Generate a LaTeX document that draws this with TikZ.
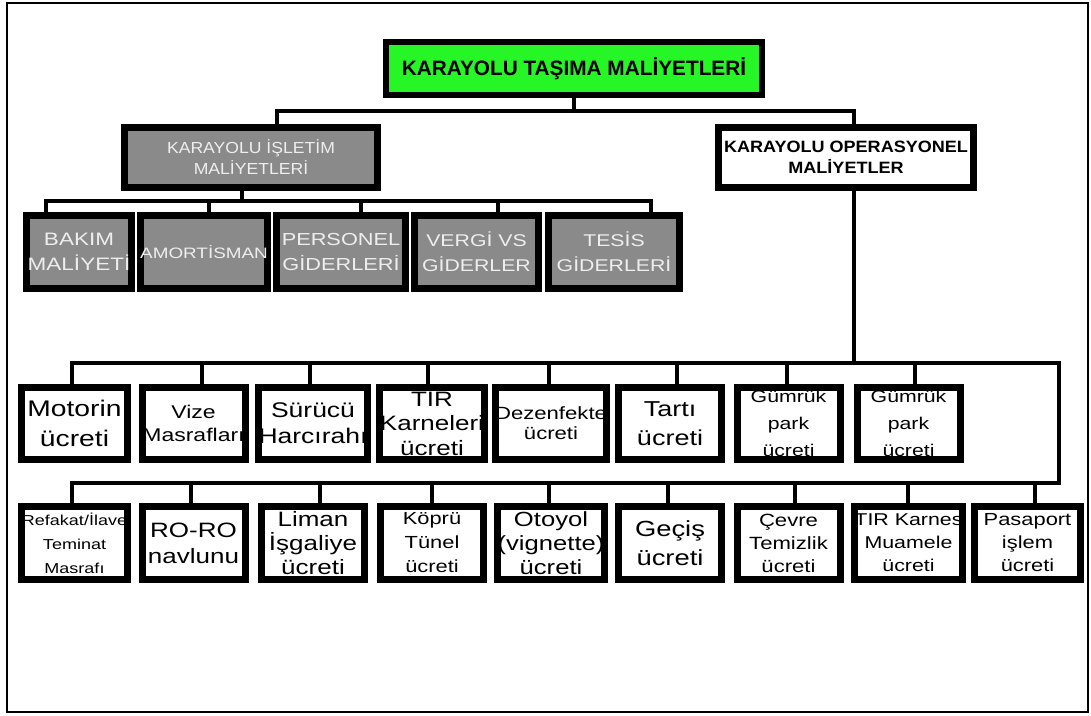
\documentclass[tikz,border=0pt]{standalone}
\usepackage{fontspec}
\setmainfont{Liberation Sans}
\newfontfamily\widesans[FakeStretch=1.25]{Liberation Sans}
\newfontfamily\titlesans[FakeStretch=1.1]{Liberation Sans}
\newcommand\fsz[2]{\fontsize{#1}{#2}\selectfont}
\definecolor{chartgreen}{RGB}{38,245,38}
\definecolor{chartgray}{RGB}{138,138,138}
\definecolor{graytext}{RGB}{238,238,238}

\begin{document}
\begin{tikzpicture}[x=1pt,y=-1pt,
  conn/.style={line width=3.2pt, line cap=rect, line join=miter},
  box/.style={draw, line width=7pt, inner sep=0pt, align=center},
  gbox/.style={box, fill=chartgray, text=graytext},
  wbox/.style={box, fill=white, text=black},
  gchild/.style={gbox, minimum height=73},
  cell/.style={wbox, minimum width=103, minimum height=72}
]
\useasboundingbox (0,0) rectangle (1091,715);
\fill[white] (0,0) rectangle (1091,715);
\draw[line width=2pt] (7,3) rectangle (1088,712);

% bus levels
\coordinate (bus1) at (0,111);
\coordinate (bus2) at (0,201);
\coordinate (bus3) at (0,363);
\coordinate (bus4) at (0,483);

% top level
\node[box, fill=chartgreen, line width=6pt, minimum width=376, minimum height=53,
      font=\bfseries\fsz{20.8}{24}] (top) at (574,68.5) {KARAYOLU TAŞIMA MALİYETLERİ};

% second level
\node[gbox, minimum width=253, minimum height=60, font=\titlesans\fsz{16}{21}]
  (gh) at (251,157.5) {KARAYOLU İŞLETİM\\MALİYETLERİ};
\node[wbox, minimum width=255, minimum height=60, font=\titlesans\bfseries\fsz{16.4}{21}]
  (wh) at (846,157.5) {KARAYOLU OPERASYONEL\\MALİYETLER};

% operating cost items
\node[gchild, minimum width=105, font=\widesans\fsz{18}{25}] (g1) at (79,252) {BAKIM\\MALİYETİ};
\node[gchild, minimum width=125, font=\widesans\fsz{15.1}{18}] (g2) at (204,252) {AMORTİSMAN};
\node[gchild, minimum width=129, font=\widesans\fsz{17.4}{25}] (g3) at (341,252) {PERSONEL\\GİDERLERİ};
\node[gchild, minimum width=124, font=\widesans\fsz{17}{25}] (g4) at (476.5,252) {VERGİ VS\\GİDERLER};
\node[gchild, minimum width=131, font=\widesans\fsz{17}{25}] (g5) at (614,252) {TESİS\\GİDERLERİ};

% operational cost items, first row
\node[cell, minimum width=106, font=\widesans\fsz{22.6}{30}] (a1) at (74.5,423.5) {Motorin\\ücreti};
\node[cell, font=\widesans\fsz{18.4}{23}] (a2) at (193.5,423.5) {Vize\\Masrafları};
\node[cell, font=\widesans\fsz{21.2}{26}] (a3) at (313,423.5) {Sürücü\\Harcırahı};
\node[cell, font=\widesans\fsz{20.8}{24.5}] (a4) at (432,423.5) {TIR\\Karneleri\\ücreti};
\node[cell, font=\widesans\fsz{17.7}{20}] (a5) at (551,423.5) {Dezenfekte\\ücreti};
\node[cell, font=\widesans\fsz{21.6}{29}] (a6) at (670,423.5) {Tartı\\ücreti};
\node[cell, font=\widesans\fsz{17}{27}] (a7) at (788.5,423.5) {Gümrük\\park\\ücreti};
\node[cell, font=\widesans\fsz{17}{27}] (a8) at (908.5,423.5) {Gümrük\\park\\ücreti};

% operational cost items, second row
\node[cell, minimum width=106, minimum height=73, font=\widesans\fsz{14.4}{24}] (b1) at (74.5,543) {Refakat/İlave\\Teminat\\Masrafı};
\node[cell, minimum height=73, font=\widesans\fsz{20.8}{26}] (b2) at (193.5,543) {RO-RO\\navlunu};
\node[cell, minimum height=73, font=\widesans\fsz{20.8}{24}] (b3) at (313,543) {Liman\\İşgaliye\\ücreti};
\node[cell, minimum height=73, font=\widesans\fsz{17.5}{24}] (b4) at (432,543) {Köprü\\Tünel\\ücreti};
\node[cell, minimum height=73, font=\widesans\fsz{20.5}{24}] (b5) at (551,543) {Otoyol\\(vignette)\\ücreti};
\node[cell, minimum height=73, font=\widesans\fsz{21.9}{29}] (b6) at (670,543) {Geçiş\\ücreti};
\node[cell, minimum height=73, font=\widesans\fsz{17.7}{23}] (b7) at (788.5,543) {Çevre\\Temizlik\\ücreti};
\node[cell, minimum height=73, font=\widesans\fsz{17.1}{23}] (b8) at (908.5,543) {TIR Karnes\\Muamele\\ücreti};
\node[cell, minimum width=106, minimum height=73, font=\widesans\fsz{17.5}{23}] (b9) at (1027.5,543) {Pasaport\\işlem\\ücreti};

% connectors: top level
\draw[conn] (top.south) -- (top.south |- bus1);
\draw[conn] (gh.north -| 277,0) |- (bus1 -| 854,0) -- (wh.north -| 854,0);

% connectors: operating costs
\draw[conn] (gh.south -| 242,0) -- (bus2 -| 242,0);
\draw[conn] (g1.north -| 46,0) |- (bus2 -| 651,0) -- (g5.north -| 651,0);
\draw[conn] (g2.north -| 209,0) -- (bus2 -| 209,0);
\draw[conn] (g3.north -| 361,0) -- (bus2 -| 361,0);
\draw[conn] (g4.north -| 498,0) -- (bus2 -| 498,0);

% connectors: operational costs
\draw[conn] (wh.south -| 854,0) -- (bus3 -| 854,0);
\draw[conn] (a1.north -| 72,0) |- (bus3 -| 1059,0) |- (bus4 -| 72,0) -- (b1.north -| 72,0);
\foreach \n/\x in {a2/202, a3/310, a4/428, a5/549, a6/677, a7/787, a8/915}
  \draw[conn] (\n.north -| \x,0) -- (bus3 -| \x,0);
\foreach \n/\x in {b2/191, b3/320, b4/432, b5/549, b6/668, b7/795, b8/908, b9/1035}
  \draw[conn] (\n.north -| \x,0) -- (bus4 -| \x,0);
\end{tikzpicture}
\end{document}
